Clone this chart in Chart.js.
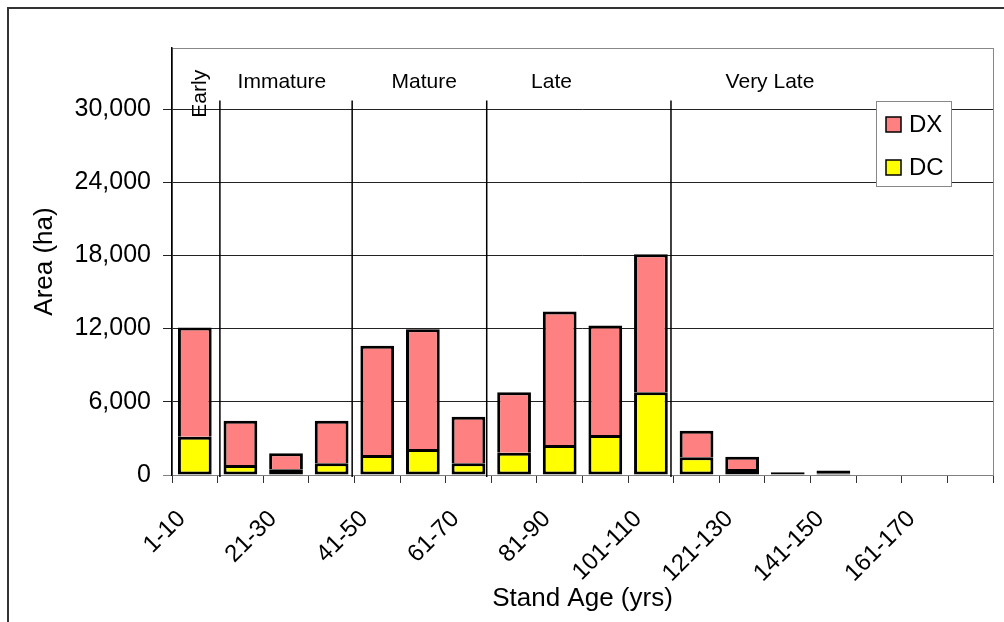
<!DOCTYPE html>
<html>
<head>
<meta charset="utf-8">
<script src="https://cdn.jsdelivr.net/npm/chart.js@4.4.0/dist/chart.umd.min.js"></script>
<style>
body{margin:0;background:#fff;}
#wrap{width:1004px;height:622px;}
</style>
</head>
<body>
<div id="wrap"><canvas id="chart" width="1004" height="622"></canvas></div>
<script>
// Veriler
const categories = ["1-10","11-20","21-30","31-40","41-50","51-60","61-70","71-80","81-90",
  "91-100","101-110","111-120","121-130","131-140","141-150","151-160","161-170","171-180"];
const dcValues = [3140, 820, 470, 960, 1640, 2130, 960, 1830, 2460, 3280, 6780, 1450, 490, 80, 150, 0, 0, 0];
const dxValues = [8960, 3630, 1310, 3490, 8960, 9820, 3820, 4950, 10940, 8970, 11320, 2180, 1010, 140, 210, 0, 0, 0];
const yTicks = [0, 6000, 12000, 18000, 24000, 30000];

// Stand development stages (positions in category units)
const phaseNames = ["Early", "Immature", "Mature", "Late", "Very Late"];
const phaseLabelPos = [0.1, 1.91, 5.03, 7.82, 12.61];
const phaseEdges = [0.55, 3.45, 6.4, 10.44];

const FONT = "'Liberation Sans', Arial, sans-serif";

// white background + outer frame + plot border
const frame = {
  id: "frame",
  beforeDraw(chart){
    const c = chart.ctx, a = chart.chartArea;
    c.save();
    c.fillStyle = "#fff"; c.fillRect(0, 0, chart.width, chart.height);
    c.strokeStyle = "#333"; c.lineWidth = 2;
    c.beginPath(); c.moveTo(8, chart.height); c.lineTo(8, 8); c.lineTo(chart.width, 8); c.stroke();
    c.strokeStyle = "#888"; c.lineWidth = 1;
    c.strokeRect(a.left + 0.5, a.top + 0.5, a.right - a.left, a.bottom - a.top);
    c.restore();
  }
};

// stage separators and names
const phases = {
  id: "phases",
  afterDatasetsDraw(chart){
    const c = chart.ctx, x = chart.scales.x, y = chart.scales.y;
    c.save();
    c.strokeStyle = "#000"; c.lineWidth = 1.5;
    phaseEdges.forEach(e => {
      const px = x.getPixelForValue(e);
      c.beginPath(); c.moveTo(px, y.getPixelForValue(30700)); c.lineTo(px, y.bottom + 2); c.stroke();
    });
    c.fillStyle = "#000"; c.font = "21px " + FONT;
    c.textAlign = "center"; c.textBaseline = "middle";
    phaseNames.forEach((n, i) => {
      const px = x.getPixelForValue(phaseLabelPos[i]);
      if(i === 0){
        c.save(); c.translate(px, y.getPixelForValue(31250)); c.rotate(-Math.PI / 2);
        c.fillText(n, 0, 1); c.restore();
      } else c.fillText(n, px, y.getPixelForValue(32200));
    });
    c.restore();
  }
};

// legend box inside the plot
const legendBox = {
  id: "legendBox",
  afterDraw(chart){
    const c = chart.ctx, a = chart.chartArea;
    const w = 75, h = 85, left = a.right - 42 - w, top = a.top + 53;
    c.save();
    c.fillStyle = "#fff"; c.fillRect(left, top, w, h);
    c.strokeStyle = "#888"; c.lineWidth = 1; c.strokeRect(left + 0.5, top + 0.5, w, h);
    const items = chart.data.datasets.slice().reverse();
    items.forEach((ds, i) => {
      const sy = top + 16 + i * 43;
      c.fillStyle = ds.backgroundColor; c.fillRect(left + 10, sy, 15, 15);
      c.strokeStyle = "#000"; c.lineWidth = 1.5; c.strokeRect(left + 10, sy, 15, 15);
      c.fillStyle = "#000"; c.font = "24px " + FONT; c.textAlign = "left"; c.textBaseline = "middle";
      c.fillText(ds.label, left + 33, sy + 8);
    });
    c.restore();
  }
};

new Chart(document.getElementById("chart"), {
  type: "bar",
  data: {
    labels: categories,
    datasets: [
      {label: "DC", data: dcValues, backgroundColor: "#FFFF00", borderColor: "#000", borderWidth: 3, borderSkipped: false},
      {label: "DX", data: dxValues, backgroundColor: "#FF8080", borderColor: "#000", borderWidth: 3,
        borderSkipped: ctx => dxValues[ctx.dataIndex] < 500 ? false : "bottom"}
    ]
  },
  options: {
    responsive: false,
    animation: false,
    layout: {padding: {left: 0, top: 48, right: 11, bottom: 0}},
    categoryPercentage: 1,
    barPercentage: 0.74,
    plugins: {legend: {display: false}, tooltip: {enabled: false}},
    scales: {
      x: {
        stacked: true,
        afterFit(s){ s.height = 147; s.paddingLeft = 0; s.paddingRight = 0; },
        border: {color: "#808080", width: 1},
        grid: {drawOnChartArea: false, offset: true, tickLength: 8, color: "#333"},
        ticks: {
          autoSkip: false, minRotation: 45, maxRotation: 45, color: "#000", padding: 22, labelOffset: -13,
          font: {family: FONT, size: 24},
          callback: (v, i) => i % 2 === 0 ? categories[i] : ""
        },
        title: {display: true, text: "Stand Age (yrs)", color: "#000", font: {family: FONT, size: 26}, padding: {top: 0, bottom: 8}}
      },
      y: {
        stacked: true,
        min: 0, max: 35000,
        afterFit(s){ s.width = 172; s.paddingTop = 0; s.paddingBottom = 0; },
        afterBuildTicks(s){ s.ticks = yTicks.map(v => ({value: v})); },
        border: {color: "#000", width: 1.5},
        grid: {tickLength: 9, lineWidth: 1, color: ctx => ctx.tick && ctx.tick.value === 0 ? "#808080" : "#222"},
        ticks: {
          color: "#000", padding: 12, font: {family: FONT, size: 25},
          callback: v => v.toLocaleString("en-US")
        },
        title: {display: true, text: "Area (ha)", color: "#000", font: {family: FONT, size: 26}, padding: {top: 29, bottom: 0}}
      }
    }
  },
  plugins: [frame, phases, legendBox]
});
</script>
</body>
</html>
